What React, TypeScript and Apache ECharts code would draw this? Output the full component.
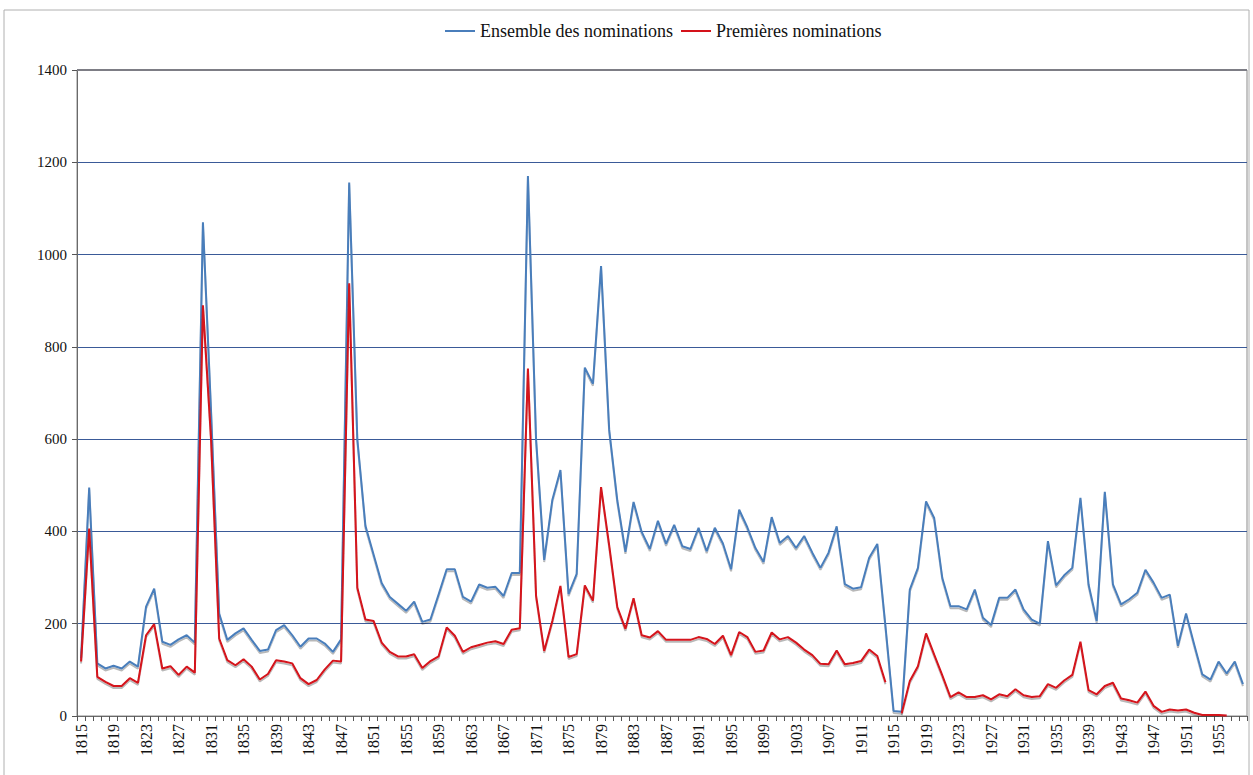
import React, { useEffect, useRef } from "react";
import * as echarts from "echarts";

const startYear = 1815;
const endYear = 1958;
const years: string[] = Array.from({ length: endYear - startYear + 1 }, (_, i) => String(startYear + i));

const yTicks = [0, 200, 400, 600, 800, 1000, 1200, 1400];

// Ensemble des nominations, 1815–1958
const ensemble: (number | null)[] = [
  125, 495, 114, 103, 109, 103, 118, 107, 237, 276, // 1815-1824
  161, 154, 166, 175, 159, 1070, 660, 222, 165, 179, // 1825-1834
  190, 165, 141, 144, 186, 197, 175, 150, 168, 168, // 1835-1844
  157, 139, 166, 1156, 600, 412, 350, 288, 258, 243, // 1845-1854
  228, 248, 204, 209, 263, 318, 318, 258, 248, 285, // 1855-1864
  278, 280, 260, 310, 310, 1170, 600, 338, 468, 533, // 1865-1874
  264, 308, 755, 720, 975, 620, 467, 356, 464, 399, // 1875-1884
  362, 423, 373, 414, 368, 362, 408, 357, 408, 374, // 1885-1894
  318, 447, 409, 364, 334, 431, 375, 390, 364, 390, // 1895-1904
  354, 321, 354, 411, 286, 276, 279, 343, 373, 195, // 1905-1914
  11, 9, 274, 321, 465, 429, 299, 238, 238, 231, // 1915-1924
  274, 213, 197, 256, 256, 274, 231, 209, 200, 379, // 1925-1934
  283, 305, 321, 473, 285, 206, 486, 285, 242, 253, // 1935-1944
  267, 317, 289, 256, 263, 152, 222, 155, 90, 79, // 1945-1954
  118, 92, 118, 69, // 1955-1958
];

// Premières nominations, 1815–1958
const premieres: (number | null)[] = [
  118, 406, 85, 74, 65, 65, 82, 72, 175, 199, // 1815-1824
  103, 108, 89, 107, 94, 890, 600, 168, 121, 110, // 1825-1834
  123, 107, 79, 91, 121, 118, 114, 82, 69, 78, // 1835-1844
  101, 120, 118, 938, 278, 209, 206, 159, 139, 129, // 1845-1854
  129, 134, 104, 119, 129, 192, 174, 139, 149, 154, // 1855-1864
  159, 162, 156, 187, 190, 753, 261, 141, 206, 282, // 1865-1874
  128, 134, 283, 250, 496, 370, 236, 189, 255, 175, // 1875-1884
  170, 184, 165, 165, 165, 165, 171, 167, 156, 174, // 1885-1894
  132, 182, 171, 139, 142, 181, 166, 171, 159, 144, // 1895-1904
  132, 113, 112, 142, 112, 115, 119, 144, 130, 73, // 1905-1914
  null, 6, 76, 108, 179, 133, 88, 41, 51, 41, // 1915-1924
  41, 45, 36, 47, 43, 58, 45, 41, 43, 69, // 1925-1934
  61, 77, 89, 161, 56, 47, 65, 72, 38, 34, // 1935-1944
  29, 53, 22, 9, 14, 12, 14, 7, 2, 2, // 1945-1954
  2, 1, null, null, // 1955-1958
];

const seriesNames = ["Ensemble des nominations", "Premières nominations"];
const seriesColors = ["#4a7ebb", "#d4121a"];

const FONT = "Liberation Serif";

export default function App() {
  const ref = useRef<HTMLDivElement>(null);

  useEffect(() => {
    if (!ref.current) return;
    const chart = echarts.init(ref.current, undefined, { renderer: "svg" });
    const shadow = {
      shadowColor: "rgba(0,0,0,0.28)",
      shadowBlur: 1,
      shadowOffsetY: 2,
      shadowOffsetX: 0,
    };
    chart.setOption({
      animation: false,
      backgroundColor: "#ffffff",
      textStyle: { fontFamily: FONT },
      legend: {
        top: 17,
        left: 440,
        icon: "rect",
        itemWidth: 30,
        itemHeight: 2,
        itemGap: 8,
        textStyle: { fontFamily: FONT, fontSize: 18, color: "#111" },
        data: seriesNames,
      },
      grid: {
        left: 77,
        right: 6,
        top: 70,
        bottom: 59,
        show: true,
        borderColor: "#8a8a8a",
        borderWidth: 1,
      },
      graphic: [
        {
          type: "rect",
          shape: { x: 4, y: 10, width: 1245, height: 790 },
          style: { fill: "none", stroke: "#b0b0b0", lineWidth: 1 },
          silent: true,
          z: -1,
        },
        {
          type: "line",
          shape: { x1: 77, y1: 70, x2: 1247, y2: 70 },
          style: { stroke: "#7d7d85", lineWidth: 2 },
          z: 50,
          silent: true,
        },
      ],
      xAxis: {
        type: "category",
        data: years,
        boundaryGap: true,
        axisLine: { show: true, lineStyle: { color: "#6a6a6a", width: 1 } },
        axisTick: { show: true, interval: 0, length: 5, lineStyle: { color: "#555" } },
        axisLabel: {
          interval: 3,
          rotate: 90,
          fontFamily: FONT,
          fontSize: 16,
          color: "#111",
          margin: 8,
        },
        splitLine: { show: false },
      },
      yAxis: {
        type: "value",
        min: yTicks[0],
        max: yTicks[yTicks.length - 1],
        interval: 200,
        axisLine: { show: true, lineStyle: { color: "#6a6a6a", width: 1 } },
        axisTick: { show: true, length: 5, lineStyle: { color: "#555" } },
        axisLabel: {
          fontFamily: FONT,
          fontSize: 15,
          color: "#111",
          margin: 10,
          formatter: (v: number) => String(v),
        },
        splitLine: { show: true, lineStyle: { color: "#3a5a98", width: 1 } },
      },
      series: [
        {
          name: seriesNames[0],
          type: "line",
          data: ensemble,
          symbol: "none",
          connectNulls: false,
          itemStyle: { color: seriesColors[0] },
          lineStyle: { color: seriesColors[0], width: 2, ...shadow },
          z: 3,
        },
        {
          name: seriesNames[1],
          type: "line",
          data: premieres,
          symbol: "none",
          connectNulls: false,
          itemStyle: { color: seriesColors[1] },
          lineStyle: { color: seriesColors[1], width: 2, ...shadow },
          z: 4,
        },
      ],
    });
    return () => chart.dispose();
  }, []);

  return (
    <div
      ref={ref}
      style={{ position: "fixed", left: 0, top: 0, width: 1253, height: 775, background: "#fff" }}
    />
  );
}
